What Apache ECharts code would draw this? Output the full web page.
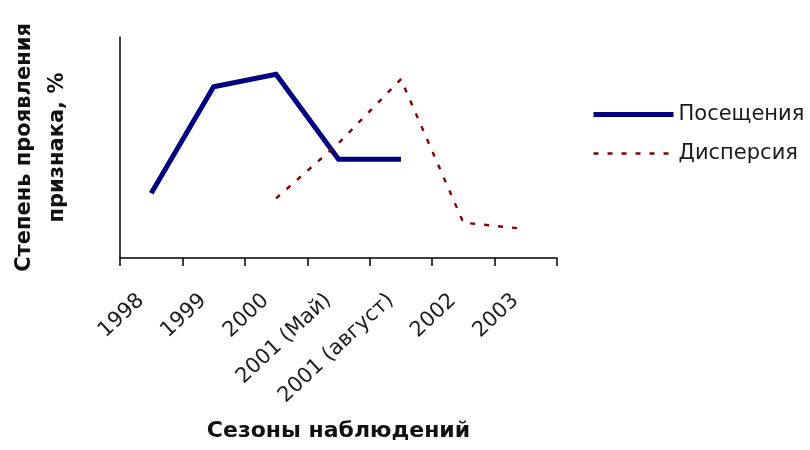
<!DOCTYPE html>
<html>
<head>
<meta charset="utf-8">
<script src="https://cdn.jsdelivr.net/npm/echarts@6/dist/echarts.min.js"></script>
<style>
  html, body { margin: 0; padding: 0; background: #fff; }
  #chart { width: 810px; height: 450px; }
</style>
</head>
<body>
<div id="chart"></div>
<script>
// Seasons of observation
var seasons = ['1998', '1999', '2000', '2001 (Май)', '2001 (август)', '2002', '2003'];
// Visits, % (no data after August 2001)
var visits = [29.3, 77.5, 83.1, 44.7, 44.7, null, null];
// Dispersion, % (observed from 2000 on)
var dispersion = [null, null, 27.0, 51.9, 80.9, 16.0, 13.1];

var seriesNames = ['Посещения', 'Дисперсия'];
var yTitle = 'Степень проявления\nпризнака, %';
var xTitle = 'Сезоны наблюдений';

var chart = echarts.init(document.getElementById('chart'), null, { renderer: 'canvas' });

var textFont = 'DejaVu Sans';

chart.setOption({
  animation: false,
  backgroundColor: '#ffffff',
  grid: { left: 120, right: 253, top: 37, bottom: 192, containLabel: false },
  legend: {
    orient: 'vertical',
    left: 586,
    top: 99,
    itemWidth: 80,
    itemHeight: 20,
    itemGap: 18,
    // line-only keys: hide the marker that the legend adds by default
    itemStyle: { color: 'rgba(0,0,0,0)', borderColor: 'rgba(0,0,0,0)', borderWidth: 0, opacity: 0 },
    lineStyle: { width: 'inherit', type: 'inherit' },
    textStyle: { fontFamily: textFont, fontSize: 21, color: '#1a1a1a', lineHeight: 20 },
    data: seriesNames
  },
  xAxis: {
    type: 'category',
    data: seasons,
    boundaryGap: true,
    axisLine: { lineStyle: { color: '#000', width: 1.5 } },
    axisTick: { show: true, length: 8, alignWithLabel: false, lineStyle: { color: '#000', width: 1.5 } },
    axisLabel: {
      interval: 0,
      rotate: 43,
      margin: 30,
      padding: [0, 14, 0, 0],
      fontFamily: textFont,
      fontSize: 21,
      color: '#1e1e1e'
    },
    name: xTitle,
    nameLocation: 'middle',
    nameGap: 162,
    nameTextStyle: { fontFamily: textFont, fontSize: 22, fontWeight: 'bold', color: '#111' }
  },
  yAxis: {
    type: 'value',
    min: 0,
    max: 100,
    splitLine: { show: false },
    axisLine: { show: true, lineStyle: { color: '#000', width: 1.5 } },
    axisTick: { show: false },
    axisLabel: { show: false },
    name: yTitle,
    nameLocation: 'middle',
    nameRotate: 90,
    nameGap: 46,
    nameTextStyle: { fontFamily: textFont, fontSize: 21, fontWeight: 'bold', color: '#111', lineHeight: 33, align: 'center' }
  },
  series: [
    {
      name: seriesNames[0],
      type: 'line',
      data: visits,
      symbol: 'none',
      connectNulls: false,
      lineStyle: { color: '#000080', width: 5, join: 'miter' },
      itemStyle: { color: '#000080' }
    },
    {
      name: seriesNames[1],
      type: 'line',
      data: dispersion,
      symbol: 'none',
      connectNulls: false,
      lineStyle: { color: '#800000', width: 2.4, type: [5, 9] },
      itemStyle: { color: '#800000' }
    }
  ]
});
</script>
</body>
</html>
